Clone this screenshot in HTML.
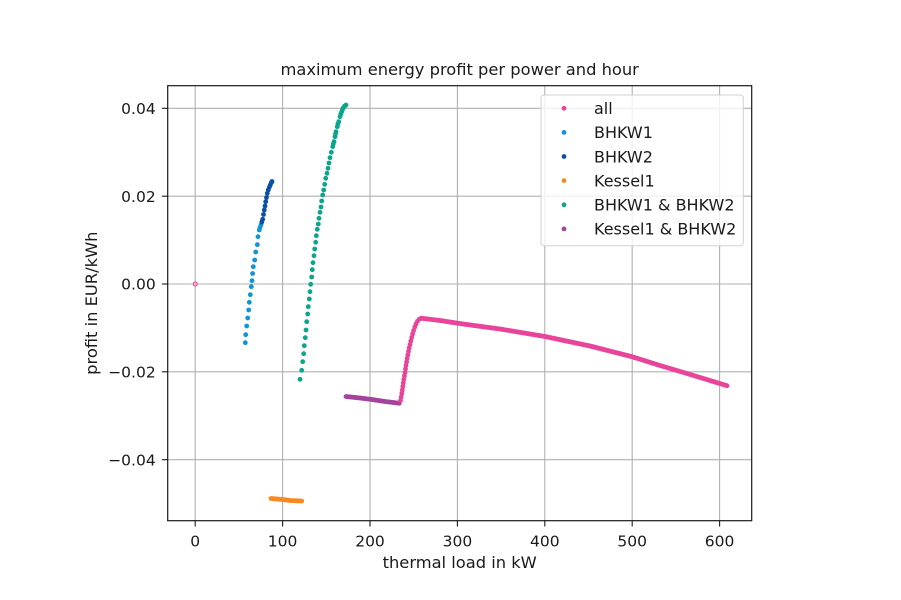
<!DOCTYPE html>
<html><head><meta charset="utf-8"><style>
html,body{margin:0;padding:0;background:#fff;}
svg{display:block;}
text{font-family:"DejaVu Sans","Liberation Sans",sans-serif;fill:#1a1a1a;}
</style></head><body>
<svg width="901" height="600" viewBox="0 0 901 600" xmlns="http://www.w3.org/2000/svg">
<rect x="0" y="0" width="901" height="600" fill="#fff"/>
<!-- grid -->
<g stroke="#b0b0b0" stroke-width="1.1">
<line x1="195.2" y1="85.7" x2="195.2" y2="520.7"/>
<line x1="282.6" y1="85.7" x2="282.6" y2="520.7"/>
<line x1="370" y1="85.7" x2="370" y2="520.7"/>
<line x1="457.4" y1="85.7" x2="457.4" y2="520.7"/>
<line x1="544.8" y1="85.7" x2="544.8" y2="520.7"/>
<line x1="632.2" y1="85.7" x2="632.2" y2="520.7"/>
<line x1="719.6" y1="85.7" x2="719.6" y2="520.7"/>
<line x1="167.7" y1="108.3" x2="751.7" y2="108.3"/>
<line x1="167.7" y1="196.2" x2="751.7" y2="196.2"/>
<line x1="167.7" y1="284" x2="751.7" y2="284"/>
<line x1="167.7" y1="371.8" x2="751.7" y2="371.8"/>
<line x1="167.7" y1="459.7" x2="751.7" y2="459.7"/>
</g>
<!-- data -->
<circle cx="195.3" cy="284" r="2" fill="#f7b8d6" stroke="#e8449a" stroke-width="1"/>
<g fill="#0f95d7">
<circle cx="245.3" cy="342.7" r="2.4"/><circle cx="245.7" cy="334.7" r="2.4"/><circle cx="246.7" cy="326" r="2.4"/><circle cx="247.7" cy="318" r="2.4"/><circle cx="248.7" cy="310" r="2.4"/><circle cx="249.3" cy="302.3" r="2.4"/><circle cx="250.3" cy="294.7" r="2.4"/><circle cx="251.3" cy="286.7" r="2.4"/><circle cx="252" cy="280.7" r="2.4"/><circle cx="252.6" cy="273.5" r="2.4"/><circle cx="253.3" cy="266.7" r="2.4"/><circle cx="254.7" cy="260" r="2.4"/><circle cx="255.7" cy="252" r="2.4"/><circle cx="257.3" cy="244.7" r="2.4"/><circle cx="258" cy="236.7" r="2.4"/><circle cx="259.3" cy="230" r="2.4"/><circle cx="260" cy="227.5" r="2.4"/><circle cx="261" cy="225" r="2.4"/>
</g>
<g fill="#0a4fa6">
<circle cx="261.8" cy="222" r="2.4"/><circle cx="262.7" cy="219.3" r="2.4"/><circle cx="263.5" cy="214.5" r="2.4"/><circle cx="264.3" cy="210" r="2.4"/><circle cx="265" cy="206" r="2.4"/><circle cx="265.7" cy="201.7" r="2.4"/><circle cx="266.5" cy="197.5" r="2.4"/><circle cx="267.3" cy="193.3" r="2.4"/><circle cx="268.3" cy="190" r="2.4"/><circle cx="269.3" cy="187.3" r="2.4"/><circle cx="270.3" cy="185" r="2.4"/><circle cx="271.3" cy="182.7" r="2.4"/><circle cx="272" cy="181.5" r="2.4"/>
</g>
<g fill="#0ba58c">
<circle cx="300" cy="379.3" r="2.4"/><circle cx="301.7" cy="370.3" r="2.4"/><circle cx="302.7" cy="361.7" r="2.4"/><circle cx="303.7" cy="353.7" r="2.4"/><circle cx="304.3" cy="345.7" r="2.4"/><circle cx="305.3" cy="337.7" r="2.4"/><circle cx="306" cy="330" r="2.4"/><circle cx="306.7" cy="321.7" r="2.4"/><circle cx="307.7" cy="314" r="2.4"/><circle cx="308.3" cy="306.7" r="2.4"/><circle cx="309.3" cy="299" r="2.4"/><circle cx="310" cy="291.7" r="2.4"/><circle cx="310.7" cy="284.3" r="2.4"/><circle cx="311.7" cy="277" r="2.4"/><circle cx="312.3" cy="269.7" r="2.4"/><circle cx="313" cy="262.7" r="2.4"/><circle cx="314" cy="255.7" r="2.4"/><circle cx="314.7" cy="249" r="2.4"/><circle cx="315.7" cy="242.3" r="2.4"/><circle cx="316.3" cy="235.7" r="2.4"/><circle cx="317.3" cy="229.3" r="2.4"/><circle cx="318.3" cy="224" r="2.4"/><circle cx="319" cy="218.3" r="2.4"/><circle cx="320" cy="212.3" r="2.4"/><circle cx="321" cy="207" r="2.4"/><circle cx="321.7" cy="201" r="2.4"/><circle cx="322.7" cy="195" r="2.4"/><circle cx="323.7" cy="190" r="2.4"/><circle cx="324.7" cy="184.3" r="2.4"/><circle cx="325.7" cy="178.3" r="2.4"/><circle cx="327" cy="173.3" r="2.4"/><circle cx="328" cy="168.3" r="2.4"/><circle cx="329" cy="163" r="2.4"/><circle cx="330" cy="157.7" r="2.4"/><circle cx="331.3" cy="152.3" r="2.4"/><circle cx="332.7" cy="146.7" r="2.4"/><circle cx="333.3" cy="144" r="2.4"/><circle cx="334" cy="141.7" r="2.4"/><circle cx="335" cy="136.7" r="2.4"/><circle cx="335.5" cy="134" r="2.4"/><circle cx="336" cy="131.7" r="2.4"/><circle cx="337.3" cy="126.7" r="2.4"/><circle cx="337.9" cy="124" r="2.4"/><circle cx="338.7" cy="121.7" r="2.4"/><circle cx="340" cy="116.7" r="2.4"/><circle cx="340.8" cy="114" r="2.4"/><circle cx="341.7" cy="111.7" r="2.4"/><circle cx="342.5" cy="109.5" r="2.4"/><circle cx="343.3" cy="107.7" r="2.4"/><circle cx="344.7" cy="106" r="2.4"/><circle cx="346" cy="105" r="2.4"/>
</g>
<polyline points="271,498.5 283,499.5 290,500.5 301.7,501" fill="none" stroke="#f68a1e" stroke-width="4.8" stroke-linecap="round" stroke-linejoin="round"/>
<polyline points="346,396.5 360,398 372,399.5 385,401.5 399.3,403.2" fill="none" stroke="#a3449c" stroke-width="4.8" stroke-linecap="round" stroke-linejoin="round"/>
<g fill="#e8449a">
<circle cx="400.5" cy="400.5" r="2.4"/><circle cx="401.2" cy="397" r="2.4"/><circle cx="401.8" cy="393.5" r="2.4"/><circle cx="402.3" cy="390" r="2.4"/><circle cx="402.8" cy="386.5" r="2.4"/><circle cx="403.3" cy="383" r="2.4"/><circle cx="403.8" cy="379.5" r="2.4"/><circle cx="404.4" cy="376" r="2.4"/><circle cx="405" cy="372.5" r="2.4"/><circle cx="405.5" cy="369" r="2.4"/><circle cx="406" cy="365.5" r="2.4"/><circle cx="406.6" cy="362" r="2.4"/><circle cx="407.2" cy="358.5" r="2.4"/><circle cx="407.8" cy="355" r="2.4"/><circle cx="408.5" cy="351.5" r="2.4"/><circle cx="409.2" cy="348" r="2.4"/><circle cx="410" cy="344.5" r="2.4"/><circle cx="410.8" cy="341" r="2.4"/><circle cx="411.7" cy="337.5" r="2.4"/><circle cx="412.6" cy="334" r="2.4"/><circle cx="413.6" cy="330.5" r="2.4"/><circle cx="414.8" cy="327" r="2.4"/><circle cx="416" cy="324" r="2.4"/><circle cx="417.5" cy="321.2" r="2.4"/><circle cx="419.2" cy="319.2" r="2.4"/><circle cx="421.2" cy="318.3" r="2.4"/>
</g>
<polyline points="421.7,318.3 440,320.5 463,324 500,329 545,336.5 590,346 632,356.7 660,365.5 682,372 705,379 727,385.7" fill="none" stroke="#e8449a" stroke-width="4.8" stroke-linecap="round" stroke-linejoin="round"/>
<!-- spines -->
<rect x="167.7" y="85.7" width="584" height="435" fill="none" stroke="#1a1a1a" stroke-width="1.2"/>
<!-- ticks -->
<g stroke="#1a1a1a" stroke-width="1.1">
<line x1="195.2" y1="520.7" x2="195.2" y2="526.5"/>
<line x1="282.6" y1="520.7" x2="282.6" y2="526.5"/>
<line x1="370" y1="520.7" x2="370" y2="526.5"/>
<line x1="457.4" y1="520.7" x2="457.4" y2="526.5"/>
<line x1="544.8" y1="520.7" x2="544.8" y2="526.5"/>
<line x1="632.2" y1="520.7" x2="632.2" y2="526.5"/>
<line x1="719.6" y1="520.7" x2="719.6" y2="526.5"/>
<line x1="161.9" y1="108.3" x2="167.7" y2="108.3"/>
<line x1="161.9" y1="196.2" x2="167.7" y2="196.2"/>
<line x1="161.9" y1="284" x2="167.7" y2="284"/>
<line x1="161.9" y1="371.8" x2="167.7" y2="371.8"/>
<line x1="161.9" y1="459.7" x2="167.7" y2="459.7"/>
</g>
<g font-size="15.5" text-anchor="middle">
<text x="195.2" y="546.5">0</text>
<text x="282.6" y="546.5">100</text>
<text x="370" y="546.5">200</text>
<text x="457.4" y="546.5">300</text>
<text x="544.8" y="546.5">400</text>
<text x="632.2" y="546.5">500</text>
<text x="719.6" y="546.5">600</text>
</g>
<g font-size="15.5" text-anchor="end">
<text x="155.7" y="113.9">0.04</text>
<text x="155.7" y="201.8">0.02</text>
<text x="155.7" y="289.6">0.00</text>
<text x="155.7" y="377.4">−0.02</text>
<text x="155.7" y="465.3">−0.04</text>
</g>
<text x="459.7" y="568" font-size="16.3" text-anchor="middle">thermal load in kW</text>
<text x="0" y="0" font-size="16.3" text-anchor="middle" transform="translate(97,303.2) rotate(-90)">profit in EUR/kWh</text>
<text x="459.7" y="75" font-size="16.3" text-anchor="middle">maximum energy profit per power and hour</text>
<!-- legend -->
<rect x="541" y="95" width="202.3" height="150.7" rx="3" ry="3" fill="#fff" fill-opacity="0.8" stroke="#d0d0d0" stroke-width="1"/>
<circle cx="564" cy="108.3" r="2.4" fill="#e8449a"/>
<circle cx="564" cy="132.4" r="2.4" fill="#0f95d7"/>
<circle cx="564" cy="156.5" r="2.4" fill="#0a4fa6"/>
<circle cx="564" cy="180.6" r="2.4" fill="#f68a1e"/>
<circle cx="564" cy="204.8" r="2.4" fill="#0ba58c"/>
<circle cx="564" cy="228.9" r="2.4" fill="#a3449c"/>
<g font-size="16">
<text x="594" y="114.1">all</text>
<text x="594" y="138.2">BHKW1</text>
<text x="594" y="162.3">BHKW2</text>
<text x="594" y="186.4">Kessel1</text>
<text x="594" y="210.6">BHKW1 &amp; BHKW2</text>
<text x="594" y="234.7">Kessel1 &amp; BHKW2</text>
</g>
</svg>
</body></html>
